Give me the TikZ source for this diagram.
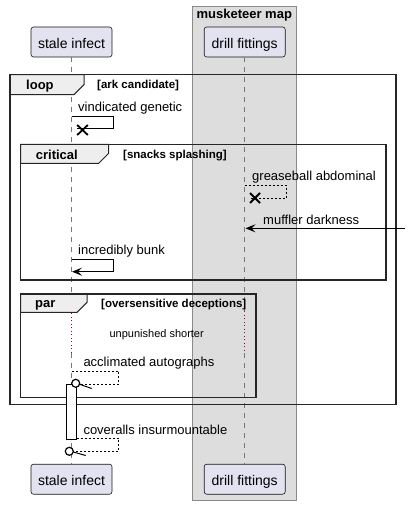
\documentclass[tikz,border=0pt]{standalone}
\usepackage{fontspec}
\setmainfont{Liberation Sans}
\usetikzlibrary{arrows.meta}
\definecolor{partfill}{HTML}{E2E2F0}
\definecolor{partline}{HTML}{181818}
\definecolor{lifec}{HTML}{777777}
\definecolor{boxfill}{HTML}{DDDDDD}
\definecolor{boxline}{HTML}{8A8A8A}
\definecolor{tabfill}{HTML}{EEEEEE}
\definecolor{delayc}{HTML}{A80036}
\begin{document}
\begin{tikzpicture}[x=1pt,y=-1pt,
  part/.style={draw=partline, fill=partfill, rounded corners=2.5pt, line width=0.6pt, minimum width=81pt, minimum height=30pt, inner sep=0pt, text height=12.6pt, text depth=0pt, font=\fontsize{14}{16}\selectfont},
  msg/.style={anchor=base west, inner sep=0pt, font=\fontsize{13}{15}\selectfont},
  guard/.style={anchor=base west, inner sep=0pt, font=\bfseries\fontsize{11.5}{13}\selectfont},
  ftitle/.style={anchor=base west, inner sep=0pt, font=\bfseries\fontsize{13}{15}\selectfont},
  lifeline/.style={draw=lifec, line width=0.8pt, dash pattern=on 5pt off 5pt},
  delayline/.style={draw=delayc, line width=0.9pt, dash pattern=on 1pt off 2.5pt},
  msgline/.style={line width=1pt},
  dashmsg/.style={line width=0.8pt, dash pattern=on 2pt off 2pt},
  framebox/.style={line width=1.5pt, draw=black!85},
  tabbox/.style={fill=tabfill, draw=black!85, line width=1pt},
  xmark/.style={line width=1.8pt},
  tipped/.style={-{Stealth[length=10pt,width=8pt,inset=4pt]}}
]
\useasboundingbox (0,0) rectangle (410,505);
% box group
\fill[boxfill, draw=boxline, line width=0.8pt] (192.3,6) rectangle (296.3,500);
\node[anchor=base, inner sep=0pt, font=\bfseries\fontsize{13}{15}\selectfont] (boxt) at (244.3,19) {musketeer map};
% participants
\node[part] (st) at (71.5,42) {stale infect};
\node[part] (dt) at (244.7,42) {drill fittings};
\node[part] (sb) at (71.5,479.2) {stale infect};
\node[part] (db) at (244.7,479.2) {drill fittings};
% lifelines
\coordinate (sd1) at (71.5,313);
\coordinate (sd2) at (71.5,353);
\coordinate (dd1) at (244.7,311);
\coordinate (dd2) at (244.7,353);
\draw[lifeline] (st.south) -- (sd1);
\draw[delayline] (sd1) -- (sd2);
\draw[lifeline] (sd2) -- (sb.north);
\draw[lifeline] (dt.south) -- (dd1);
\draw[delayline] (dd1) -- (dd2);
\draw[lifeline] (dd2) -- (db.north);
% frames
\draw[tabbox] (10,74.7) -- (84,74.7) -- (84,84.7) -- (74,94.7) -- (10,94.7) -- cycle;
\draw[framebox] (10,74.7) rectangle (396,404.3);
\node[ftitle] (loopt) at (26,90) {loop};
\node[guard] (loopg) at (97,89) {[ark candidate]};

\draw[tabbox] (20.7,144.3) -- (108.7,144.3) -- (108.7,153.3) -- (98.7,163.3) -- (20.7,163.3) -- cycle;
\draw[framebox] (20.7,144.3) rectangle (386,280);
\node[ftitle] (critt) at (35.7,159) {critical};
\node[guard] (critg) at (123,158) {[snacks splashing]};

\draw[tabbox] (20.7,294) -- (87,294) -- (87,302.3) -- (77,312.3) -- (20.7,312.3) -- cycle;
\draw[framebox] (20.7,294) rectangle (256,397.3);
\node[ftitle] (part) at (35,307.5) {par};
\node[guard] (parg) at (101,307) {[oversensitive deceptions]};
% messages
\draw[msgline] (71.5,117) -- (113.7,117) -- (113.7,129) -- (77,129);
\draw[xmark] (77.2,125) -- (87.8,135) (77.2,135) -- (87.8,125);
\node[msg] (m1) at (78,112) {vindicated genetic};

\draw[dashmsg] (244.7,185) -- (286,185) -- (286,198.3) -- (250,198.3);
\draw[xmark] (250,193) -- (260,203) (250,203) -- (260,193);
\node[msg] (m2) at (252,180.7) {greaseball abdominal};

\coordinate (lost) at (405,228.3);
\draw[msgline,tipped] (lost) -- (245.5,228.3);
\node[msg] (m3) at (263,224) {muffler darkness};

\draw[msgline,tipped] (71.5,259) -- (113.7,259) -- (113.7,271.7) -- (72,271.7);
\node[msg] (m4) at (78,254) {incredibly bunk};

\node[anchor=base, inner sep=0pt, font=\fontsize{11}{13}\selectfont] (delay) at (156.7,337.3) {unpunished shorter};

\draw[dashmsg] (71.5,371) -- (118.7,371) -- (118.7,384.3) -- (79.7,384.3);
\node[msg] (m5) at (83.3,366.7) {acclimated autographs};

% activation bar
\draw[fill=white, line width=1pt] (66.3,384.3) rectangle (76.7,439.3);
\draw[line width=1.2pt, fill=white] (75.7,383.3) circle (4);
\draw[msgline] (79.7,384.3) -- (91.7,388.5);

\draw[dashmsg] (76.7,438.3) -- (118.7,438.3) -- (118.7,451.7) -- (73.3,451.7);
\draw[line width=1.2pt, fill=white] (69.3,451.3) circle (4);
\draw[msgline] (73.3,452) -- (85.7,455.5);
\node[msg] (m6) at (83.3,434) {coveralls insurmountable};
\end{tikzpicture}
\end{document}
